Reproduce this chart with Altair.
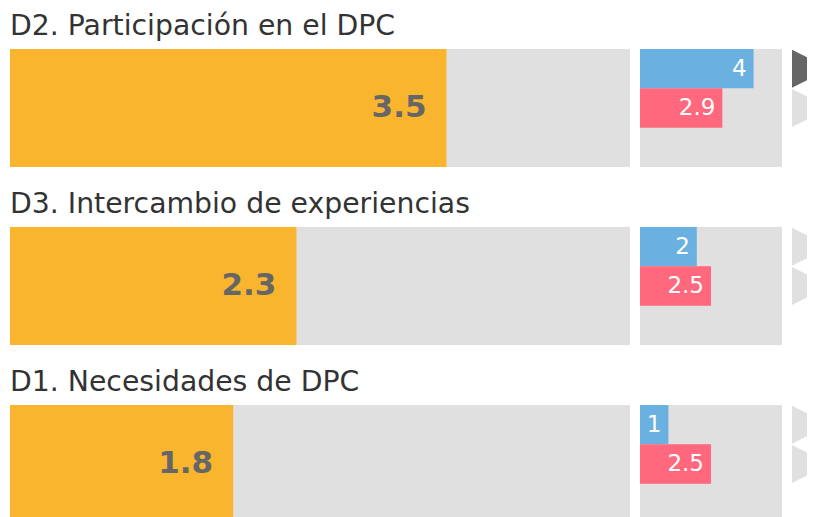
import altair as alt
import pandas as pd

# ---- data ----
titles = ["D2. Participación en el DPC", "D3. Intercambio de experiencias", "D1. Necesidades de DPC"]
main_values = [3.52, 2.31, 1.8]
blue_values = [4, 2, 1]
red_values = [2.9, 2.5, 2.5]
# triangle markers (first = blue row, second = red row); "on" = highlighted
markers = [["on", "off"], ["off", "off"], ["off", "off"]]
scale_max = 5

ORANGE = "#F9B52E"
GREY = "#E0E0E0"
BLUE = "#6AB0E0"
RED = "#FF687D"
DARK = "#666666"
FONT = "DejaVu Sans"
TRIANGLE = "M-1,-1L1,0L-1,1Z"

BIG_W, SMALL_W, TRI_W, H = 620, 142, 15, 118
series_domain = ["blue", "red", "empty"]


def make_row(i):
    big_df = pd.DataFrame({"row": ["r"], "value": [main_values[i]], "max": [scale_max]})
    xs = alt.Scale(domain=[0, scale_max], nice=False)
    ys = alt.Scale(paddingInner=0, paddingOuter=0)
    base = alt.Chart(big_df).encode(y=alt.Y("row:N", axis=None, scale=ys))
    bg = base.mark_bar(color=GREY).encode(x=alt.X("max:Q", axis=None, scale=xs))
    bar = base.mark_bar(color=ORANGE).encode(x=alt.X("value:Q", axis=None, scale=xs))
    txt = base.mark_text(align="right", dx=-20, fontSize=31, fontWeight="bold",
                         font=FONT, color=DARK).encode(
        x=alt.X("value:Q", axis=None, scale=xs), text=alt.Text("value:Q", format=".1f"))
    big = alt.layer(bg, bar, txt).properties(width=BIG_W, height=H)

    small_df = pd.DataFrame({
        "series": ["blue", "red"],
        "value": [blue_values[i], red_values[i]],
        "label": [f"{blue_values[i]:g}", f"{red_values[i]:g}"],
        "marker": markers[i],
    })
    sys_ = alt.Scale(domain=series_domain, paddingInner=0, paddingOuter=0)
    sbase = alt.Chart(small_df).encode(y=alt.Y("series:N", axis=None, scale=sys_))
    sbg = alt.Chart(pd.DataFrame({"max": [scale_max]})).mark_rect(color=GREY).encode(
        x=alt.X("max:Q", axis=None, scale=xs), x2=alt.datum(0))
    sbar = sbase.mark_bar().encode(
        x=alt.X("value:Q", axis=None, scale=xs),
        color=alt.condition(alt.datum.series == "blue", alt.value(BLUE), alt.value(RED)))
    stxt = sbase.mark_text(align="right", dx=-7, fontSize=23, font=FONT, color="white").encode(
        x=alt.X("value:Q", axis=None, scale=xs), text="label:N")
    small = alt.layer(sbg, sbar, stxt).properties(width=SMALL_W, height=H)

    tri = sbase.mark_point(shape=TRIANGLE, filled=True, size=1444, opacity=1, clip=True).encode(
        x=alt.value(19),
        color=alt.condition(alt.datum.marker == "on", alt.value(DARK), alt.value(GREY)),
    ).properties(width=TRI_W, height=H)

    return alt.hconcat(big, small, tri, spacing=10).properties(
        title=alt.TitleParams(titles[i], anchor="start", fontSize=28.3, font=FONT,
                              fontWeight="normal", color="#333333", offset=8))


chart = alt.vconcat(*[make_row(i) for i in range(3)], spacing=22).properties(
    padding={"left": 2, "top": 3, "right": 0, "bottom": 0}
).configure(background="white").configure_view(stroke=None)

chart.save("out.html", embed_options={"renderer": "svg", "actions": False})
